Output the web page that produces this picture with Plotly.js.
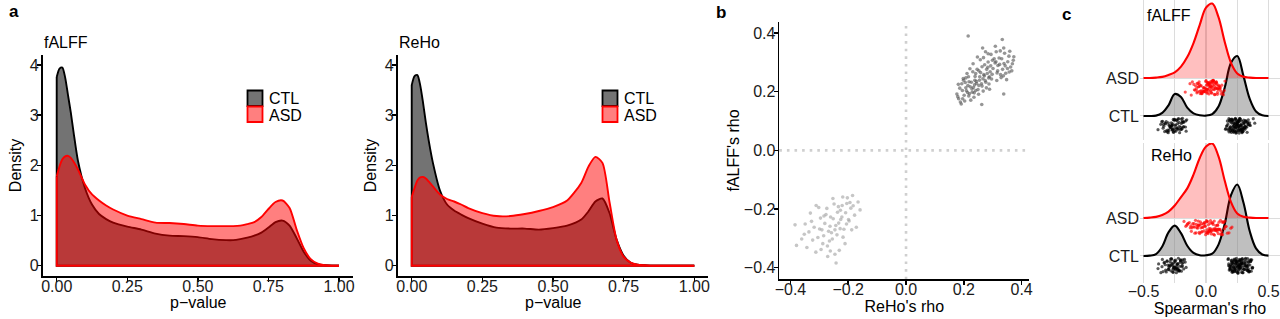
<!DOCTYPE html>
<html><head><meta charset="utf-8">
<script src="https://cdn.plot.ly/plotly-3.0.1.min.js"></script>
<style>html,body{margin:0;padding:0;background:#fff}#chart{width:1280px;height:319px}</style>
</head><body><div id="chart"></div>
<script>
// ---------- Panel a: density of p-values ----------
const pGrid = [0,0.01,0.02,0.03,0.04,0.05,0.06,0.075,0.1,0.125,0.15,0.175,0.2,0.25,0.3,0.35,0.4,0.45,0.5,0.55,0.6,0.625,0.65,0.675,0.7,0.725,0.75,0.775,0.8,0.825,0.85,0.875,0.9,0.925,0.95,0.975,1];
const falffCtlDensity = [3.76,3.93,3.95,3.75,3.4,3.05,2.65,2.1,1.55,1.22,1.03,0.93,0.86,0.78,0.72,0.64,0.6,0.59,0.57,0.53,0.51,0.51,0.53,0.56,0.6,0.66,0.76,0.87,0.9,0.8,0.55,0.28,0.1,0.03,0.01,0,0];
const falffAsdDensity = [1.78,1.98,2.12,2.18,2.19,2.15,2.07,1.92,1.62,1.42,1.3,1.2,1.12,1.0,0.93,0.86,0.85,0.83,0.8,0.79,0.79,0.79,0.8,0.83,0.87,0.97,1.13,1.27,1.3,1.15,0.72,0.35,0.13,0.04,0.01,0,0];
const rehoCtlDensity = [3.6,3.78,3.8,3.6,3.25,2.85,2.5,2.05,1.5,1.22,1.1,1.02,0.95,0.84,0.76,0.74,0.74,0.72,0.75,0.8,0.92,1.08,1.28,1.34,1.05,0.52,0.2,0.06,0.02,0.01,0,0,0,0,0,0,0];
const rehoAsdDensity = [1.37,1.55,1.7,1.76,1.77,1.74,1.68,1.58,1.42,1.33,1.28,1.22,1.15,1.05,0.99,0.99,1.03,1.09,1.17,1.3,1.65,1.97,2.17,2.05,1.27,0.52,0.18,0.06,0.02,0.01,0,0,0,0,0,0,0];
const pTicks = [0,0.25,0.5,0.75,1];
const densityTicks = [0,1,2,3,4];

// ---------- Panel b: ReHo's rho vs fALFF's rho ----------
const posReho = [0.182,0.195,0.201,0.214,0.188,0.226,0.233,0.207,0.219,0.241,
 0.252,0.263,0.238,0.271,0.284,0.229,0.246,0.291,0.305,0.276,
 0.318,0.327,0.296,0.341,0.334,0.352,0.309,0.362,0.287,0.257,
 0.176,0.191,0.205,0.217,0.198,0.224,0.211,0.236,0.243,0.231,
 0.249,0.266,0.258,0.278,0.272,0.289,0.301,0.314,0.322,0.345,
 0.356,0.371,0.338,0.366,0.348,0.312,0.294,0.283,0.268,0.221,
 0.186,0.179,0.193,0.203,0.209,0.216,0.222,0.228,0.235,0.239,
 0.244,0.251,0.255,0.261,0.267,0.274,0.281,0.286,0.293,0.298,
 0.338,0.311,0.317,0.324,0.331,0.337,0.343,0.351,0.359,0.368,
 0.215,0.213,0.199,0.247,0.262,0.275,0.289,0.232,0.265,0.252,
 0.181,0.196,0.207,0.218,0.237,0.254,0.241,0.263,0.279,0.308,
 0.326,0.339,0.357,0.373,0.333,0.329,0.315,0.299,0.284,0.269];
const posFalff = [0.176,0.204,0.188,0.221,0.165,0.232,0.214,0.247,0.193,0.262,
 0.221,0.285,0.239,0.254,0.301,0.198,0.276,0.268,0.312,0.232,
 0.289,0.258,0.243,0.331,0.276,0.302,0.355,0.284,0.226,0.309,
 0.192,0.158,0.231,0.185,0.245,0.171,0.262,0.196,0.235,0.268,
 0.207,0.244,0.265,0.213,0.292,0.251,0.279,0.238,0.315,0.263,
 0.321,0.307,0.349,0.271,0.241,0.336,0.327,0.283,0.316,0.278,
 0.212,0.183,0.227,0.168,0.203,0.251,0.217,0.209,0.181,0.252,
 0.228,0.191,0.251,0.227,0.202,0.238,0.262,0.247,0.288,0.259,
 0.192,0.302,0.271,0.293,0.312,0.254,0.288,0.279,0.338,0.295,
 0.39,0.197,0.239,0.318,0.156,0.336,0.208,0.295,0.349,0.271,
 0.225,0.176,0.213,0.234,0.223,0.239,0.204,0.219,0.276,0.298,
 0.339,0.296,0.267,0.319,0.378,0.248,0.264,0.307,0.329,0.258];
const negReho = [-0.384,-0.379,-0.242,-0.185,-0.352,-0.331,-0.318,-0.305,-0.296,-0.288,
 -0.281,-0.274,-0.268,-0.261,-0.255,-0.249,-0.243,-0.237,-0.231,-0.226,
 -0.221,-0.215,-0.209,-0.203,-0.197,-0.191,-0.178,-0.166,-0.159,-0.172,
 -0.343,-0.327,-0.312,-0.299,-0.285,-0.272,-0.263,-0.252,-0.239,-0.228,
 -0.218,-0.206,-0.194,-0.183,-0.302,-0.291,-0.277,-0.265,-0.253,-0.246,
 -0.234,-0.222,-0.211,-0.199,-0.188,-0.323,-0.336,-0.361,-0.311,-0.258,
 -0.271,-0.284,-0.246,-0.233,-0.219,-0.205,-0.262,-0.294,-0.349,-0.227];
const negFalff = [-0.254,-0.324,-0.384,-0.154,-0.286,-0.214,-0.262,-0.297,-0.231,-0.318,
 -0.249,-0.198,-0.276,-0.227,-0.302,-0.183,-0.256,-0.211,-0.341,-0.236,
 -0.188,-0.269,-0.213,-0.162,-0.241,-0.197,-0.221,-0.176,-0.203,-0.262,
 -0.331,-0.242,-0.347,-0.268,-0.291,-0.326,-0.259,-0.233,-0.288,-0.267,
 -0.296,-0.251,-0.178,-0.189,-0.195,-0.271,-0.219,-0.309,-0.164,-0.354,
 -0.192,-0.227,-0.318,-0.236,-0.271,-0.306,-0.278,-0.302,-0.188,-0.281,
 -0.362,-0.224,-0.271,-0.248,-0.159,-0.181,-0.343,-0.338,-0.251,-0.204];
const rhoTicksB = [-0.4,-0.2,0,0.2,0.4];

// ---------- Panel c: ridgelines of Spearman's rho ----------
const rhoGrid = [-0.5,-0.45,-0.4,-0.35,-0.3,-0.25,-0.2,-0.15,-0.1,-0.05,0,0.05,0.1,0.15,0.2,0.25,0.3,0.35,0.4,0.45,0.5];
const falffCtlRidge = [0,0,0.01,0.08,0.28,0.58,0.5,0.22,0.07,0.02,0.01,0.05,0.25,0.75,1.4,1.58,1.05,0.45,0.12,0.02,0];
const falffAsdRidge = [0,0,0.01,0.03,0.08,0.15,0.3,0.55,0.92,1.4,1.85,1.96,1.6,0.95,0.4,0.12,0.03,0.01,0,0,0];
const rehoCtlRidge = [0,0.01,0.05,0.25,0.62,0.8,0.6,0.27,0.08,0.02,0.02,0.06,0.3,0.85,1.6,1.88,1.4,0.65,0.2,0.04,0.01];
const rehoAsdRidge = [0,0.01,0.03,0.08,0.17,0.33,0.55,0.78,1.14,1.58,1.88,1.96,1.62,0.98,0.42,0.12,0.03,0.01,0,0,0];
const falffAsdRho = [-0.082,0.034,0.011,-0.047,0.096,0.058,-0.021,0.127,0.003,-0.064,
 0.071,0.042,-0.109,0.018,0.087,-0.035,0.114,0.052,-0.008,0.026,
 -0.071,0.063,0.139,-0.052,0.009,0.081,-0.016,0.047,0.105,-0.093,
 0.038,-0.027,0.068,0.121,-0.058,0.015,0.092,-0.004,0.056,-0.041,
 0.029,0.078,-0.118,0.044,0.006,0.101,-0.067,0.061,-0.013,0.133,
 0.022,-0.086,0.049,0.083,-0.031,0.012,0.109,-0.049,0.074,0.037,
 -0.166,0.001,0.066,-0.022,0.091,0.027,-0.076,0.054,0.118,-0.039,
 0.008,0.086,-0.061,0.041,-0.002,0.097,0.031,-0.097,0.069,0.019,
 0.146,-0.044,0.059,-0.011,0.077,-0.128,0.024,0.112,-0.055,0.046,
 0.004,-0.073,0.089,0.032,-0.018,0.065,0.152,-0.036,0.051,0.014];
const rehoAsdRho = [-0.121,0.045,-0.013,0.098,-0.068,0.152,0.021,-0.154,0.076,-0.034,
 0.119,-0.091,0.007,0.063,-0.047,0.184,-0.112,0.036,0.089,-0.006,
 -0.143,0.057,0.132,-0.077,0.015,0.104,-0.029,0.171,-0.058,0.041,
 -0.176,0.083,-0.019,0.126,-0.101,0.052,0.001,0.147,-0.084,0.029,
 0.094,-0.041,0.068,-0.133,0.113,-0.009,0.038,-0.062,0.198,0.011,
 -0.096,0.072,-0.024,0.137,-0.051,0.019,0.086,-0.117,0.049,0.161,
 -0.037,0.003,0.108,-0.072,0.061,-0.148,0.024,0.129,-0.016,0.079,
 -0.089,0.033,0.154,-0.054,0.012,0.097,-0.126,0.058,-0.003,0.141,
 0.027,-0.066,0.116,-0.031,0.071,-0.106,0.043,0.208,-0.045,0.008,
 0.091,-0.079,0.035,-0.011,0.124,-0.162,0.066,0.017,-0.058,0.102];
const jitterDown = [0.21,0.34,0.12,0.41,0.27,0.08,0.36,0.19,0.30,0.15,
 0.43,0.24,0.10,0.32,0.18,0.39,0.26,0.07,0.35,0.22,
 0.14,0.29,0.44,0.17,0.37,0.11,0.25,0.40,0.20,0.31,
 0.09,0.33,0.16,0.42,0.23,0.13,0.38,0.28,0.06,0.34,
 0.19,0.26,0.45,0.12,0.30,0.21,0.36,0.08,0.27,0.39,
 0.15,0.32,0.24,0.10,0.41,0.18,0.29,0.35,0.13,0.22,
 0.37,0.07,0.31,0.25,0.43,0.16,0.28,0.11,0.34,0.20,
 0.40,0.14,0.23,0.38,0.09,0.30,0.26,0.17,0.44,0.12,
 0.33,0.21,0.06,0.36,0.27,0.15,0.42,0.24,0.10,0.31,
 0.19,0.39,0.28,0.13,0.35,0.22,0.08,0.41,0.18,0.29,
 0.25,0.37,0.11,0.32,0.20,0.45,0.16,0.27,0.09,0.34,
 0.23,0.40,0.14,0.30,0.07,0.38,0.26,0.19,0.43,0.12,
 0.33,0.21,0.36,0.10,0.28,0.17,0.42,0.24,0.31,0.15,
 0.39,0.08,0.25,0.35,0.18,0.29,0.11,0.44,0.22,0.32,
 0.06,0.37,0.27,0.13,0.40,0.20,0.34,0.16,0.30,0.09,
 0.41,0.23,0.14,0.36,0.26,0.19,0.43,0.12,0.31,0.21,
 0.38,0.10,0.28,0.17,0.35,0.24,0.07,0.42,0.29,0.15,
 0.33,0.20,0.39,0.11,0.26,0.37,0.18,0.44,0.13,0.30,
 0.22,0.08,0.34,0.25,0.40,0.16,0.32,0.27,0.09,0.36];
const groupLevels = [1, 2];
const groupLabels = ['CTL', 'ASD'];
const rhoTicksC = [-0.5,-0.25,0,0.25,0.5];
const rhoTickTextC = ['\u22120.5','','0.0','','0.5'];

// ---------- helpers ----------
const W = 1280, H = 319;
const px = v => v / W;
const py = v => 1 - v / H;
const FONT = 'Liberation Sans, Arial, Helvetica, sans-serif';
const CTL_FILL = 'rgba(0,0,0,0.55)', ASD_FILL = 'rgba(255,0,0,0.5)';

function ridgeTraces(xs, hs, level, xa, ya, lineColor, fillColor) {
  const base = { x: xs, y: xs.map(() => level), xaxis: xa, yaxis: ya, mode: 'lines',
    line: { width: 0, color: 'rgba(0,0,0,0)' }, hoverinfo: 'skip', showlegend: false };
  const top = { x: xs, y: hs.map(h => level + h), xaxis: xa, yaxis: ya, mode: 'lines',
    fill: 'tonexty', fillcolor: fillColor,
    line: { color: lineColor, width: 2.1, shape: 'spline', smoothing: 1 }, showlegend: false };
  return [base, top];
}
function jitterTrace(xs, level, xa, ya, color) {
  return { x: xs, y: xs.map((_, i) => level - jitterDown[i]), xaxis: xa, yaxis: ya,
    mode: 'markers', type: 'scatter', showlegend: false,
    marker: { size: 3.2, color: color, line: { width: 0 } } };
}

const traces = [];
// panel a: smoothed density curve filled to zero, plus the straight outline (left edge + baseline)
function densityTraces(xa, ya, vals, lineColor, fillColor, name) {
  const n = pGrid.length;
  return [
    { x: pGrid, y: vals, xaxis: xa, yaxis: ya, mode: 'lines', fill: 'tozeroy', fillcolor: fillColor,
      line: { color: lineColor, width: 1.9, shape: 'spline', smoothing: 0.7 }, name: name, showlegend: false },
    { x: [pGrid[0], pGrid[0], pGrid[n - 1]], y: [vals[0], 0, 0], xaxis: xa, yaxis: ya, mode: 'lines',
      line: { color: lineColor, width: 1.9 }, hoverinfo: 'skip', showlegend: false }
  ];
}
traces.push(...densityTraces('x', 'y', falffCtlDensity, '#000', CTL_FILL, 'CTL'));
traces.push(...densityTraces('x', 'y', falffAsdDensity, '#ff0000', ASD_FILL, 'ASD'));
traces.push(...densityTraces('x2', 'y2', rehoCtlDensity, '#000', CTL_FILL, 'CTL'));
traces.push(...densityTraces('x2', 'y2', rehoAsdDensity, '#ff0000', ASD_FILL, 'ASD'));
// panel b
traces.push({ x: negReho, y: negFalff, xaxis: 'x3', yaxis: 'y3', mode: 'markers', showlegend: false,
  marker: { size: 3.6, color: 'rgba(160,160,160,0.6)' } });
traces.push({ x: posReho, y: posFalff, xaxis: 'x3', yaxis: 'y3', mode: 'markers', showlegend: false,
  marker: { size: 3.6, color: 'rgba(80,80,80,0.6)' } });
// panel c - fALFF (top)
traces.push(...ridgeTraces(rhoGrid, falffCtlRidge, groupLevels[0], 'x4', 'y4', '#000', 'rgba(128,128,128,0.5)'));
traces.push(...ridgeTraces(rhoGrid, falffAsdRidge, groupLevels[1], 'x4', 'y4', '#ff0000', 'rgba(255,0,0,0.25)'));
traces.push(jitterTrace(posFalff.concat(negFalff), groupLevels[0], 'x4', 'y4', 'rgba(0,0,0,0.65)'));
traces.push(jitterTrace(falffAsdRho, groupLevels[1], 'x4', 'y4', 'rgba(255,0,0,0.65)'));
// panel c - ReHo (bottom)
traces.push(...ridgeTraces(rhoGrid, rehoCtlRidge, groupLevels[0], 'x5', 'y5', '#000', 'rgba(128,128,128,0.5)'));
traces.push(...ridgeTraces(rhoGrid, rehoAsdRidge, groupLevels[1], 'x5', 'y5', '#ff0000', 'rgba(255,0,0,0.25)'));
traces.push(jitterTrace(posReho.concat(negReho), groupLevels[0], 'x5', 'y5', 'rgba(0,0,0,0.65)'));
traces.push(jitterTrace(rehoAsdRho, groupLevels[1], 'x5', 'y5', 'rgba(255,0,0,0.65)'));

// ---------- layout ----------
const tickFont = { family: FONT, size: 16, color: '#1a1a1a' };
const titleFont = { family: FONT, size: 16, color: '#000' };
const classic = {
  showline: true, linecolor: '#000', linewidth: 1.7, ticks: 'outside', ticklen: 4, tickwidth: 1.5,
  tickcolor: '#000', showgrid: false, zeroline: false, tickfont: tickFont, fixedrange: true
};
const xStyle = Object.assign({}, classic, { ticklabelstandoff: -9 });
const yStyle = Object.assign({}, classic, { ticklabelstandoff: -5 });
const yA = [py(276), py(55)];
const annot = (text, x, y, anchor, font) => ({ text: text, x: px(x), y: py(y), xref: 'paper', yref: 'paper',
  xanchor: anchor, yanchor: 'middle', showarrow: false, font: font || titleFont });
const bold = { family: FONT, size: 17, color: '#000' };
const layout = {
  width: W, height: H, margin: { l: 0, r: 0, t: 0, b: 0 }, paper_bgcolor: '#fff', plot_bgcolor: 'rgba(0,0,0,0)',
  showlegend: false, font: { family: FONT, size: 16, color: '#000' },
  xaxis: Object.assign({}, xStyle, { domain: [px(42.6), px(353.1)], range: [-0.05, 1.05], anchor: 'y',
    tickvals: pTicks, tickformat: '.2f' }),
  yaxis: Object.assign({}, yStyle, { domain: yA, range: [-0.205, 4.2], anchor: 'x',
    tickvals: densityTicks, title: { text: 'Density', font: titleFont, standoff: 4 } }),
  xaxis2: Object.assign({}, xStyle, { domain: [px(397.6), px(708.4)], range: [-0.05, 1.05], anchor: 'y2',
    tickvals: pTicks, tickformat: '.2f' }),
  yaxis2: Object.assign({}, yStyle, { domain: yA, range: [-0.205, 4.2], anchor: 'x2',
    tickvals: densityTicks, title: { text: 'Density', font: titleFont, standoff: 4 } }),
  xaxis3: Object.assign({}, xStyle, { domain: [px(779.3), px(1029.3)], range: [-0.4385, 0.4265], anchor: 'y3',
    tickvals: rhoTicksB, tickformat: '.1f', title: { text: "ReHo's rho", font: titleFont, standoff: 3 } }),
  yaxis3: Object.assign({}, yStyle, { domain: [py(279.3), py(21.7)], range: [-0.4396, 0.4385], anchor: 'x3',
    tickvals: rhoTicksB, tickformat: '.1f', title: { text: "fALFF's rho", font: titleFont, standoff: 0 } }),
  xaxis4: { domain: [px(1140), 1], range: [-0.528, 0.592], anchor: 'y4', tickvals: rhoTicksC, showticklabels: false,
    showgrid: true, gridcolor: '#dcdcdc', gridwidth: 1.2, zeroline: false, showline: false, ticks: '', fixedrange: true },
  yaxis4: { domain: [py(140), 1], range: [0.368, 4.053], anchor: 'x4', tickvals: groupLevels, ticktext: groupLabels,
    showgrid: true, gridcolor: '#dcdcdc', gridwidth: 1, zeroline: false, showline: false, ticks: '', tickfont: tickFont, fixedrange: true },
  xaxis5: { domain: [px(1140), 1], range: [-0.528, 0.592], anchor: 'y5', tickvals: rhoTicksC, ticktext: rhoTickTextC,
    showgrid: true, gridcolor: '#dcdcdc', gridwidth: 1.2, zeroline: false, showline: false, ticks: '', tickfont: tickFont,
    ticklabelstandoff: -3, title: { text: "Spearman's rho", font: titleFont, standoff: 0 }, fixedrange: true },
  yaxis5: { domain: [py(283), py(143)], range: [0.289, 3.974], anchor: 'x5', tickvals: groupLevels, ticktext: groupLabels,
    showgrid: true, gridcolor: '#dcdcdc', gridwidth: 1, zeroline: false, showline: false, ticks: '', tickfont: tickFont, fixedrange: true },
  shapes: [
    { type: 'line', xref: 'x3', yref: 'y3 domain', x0: 0, x1: 0, y0: 0, y1: 1, layer: 'below',
      line: { color: '#cfcfcf', width: 2.6, dash: '2.6px,5px' } },
    { type: 'line', xref: 'x3 domain', yref: 'y3', x0: 0, x1: 1, y0: 0, y1: 0, layer: 'below',
      line: { color: '#cfcfcf', width: 2.6, dash: '2.6px,5px' } },
    // legend keys (panel a, left and right)
    { type: 'rect', xref: 'paper', yref: 'paper', x0: px(247.5), x1: px(262.5), y0: py(106), y1: py(90.5),
      fillcolor: CTL_FILL, line: { color: '#000', width: 1.8 } },
    { type: 'rect', xref: 'paper', yref: 'paper', x0: px(247.5), x1: px(262.5), y0: py(122), y1: py(106.5),
      fillcolor: ASD_FILL, line: { color: '#ff0000', width: 1.8 } },
    { type: 'rect', xref: 'paper', yref: 'paper', x0: px(602.5), x1: px(617.5), y0: py(106), y1: py(90.5),
      fillcolor: CTL_FILL, line: { color: '#000', width: 1.8 } },
    { type: 'rect', xref: 'paper', yref: 'paper', x0: px(602.5), x1: px(617.5), y0: py(122), y1: py(106.5),
      fillcolor: ASD_FILL, line: { color: '#ff0000', width: 1.8 } }
  ],
  annotations: [
    annot('<b>a</b>', 7, 12, 'left', bold),
    annot('<b>b</b>', 714, 13, 'left', bold),
    annot('<b>c</b>', 1060, 14, 'left', bold),
    annot('fALFF', 42, 42, 'left'),
    annot('ReHo', 397, 42, 'left'),
    annot('p\u2212value', 198, 302, 'center'),
    annot('p\u2212value', 553, 302, 'center'),
    annot('CTL', 267, 98, 'left'),
    annot('ASD', 267, 115, 'left'),
    annot('CTL', 622, 98, 'left'),
    annot('ASD', 622, 115, 'left'),
    annot('fALFF', 1145, 15, 'left'),
    annot('ReHo', 1149, 155, 'left')
  ]
};

Plotly.newPlot('chart', traces, layout, { staticPlot: true, displayModeBar: false });
</script>
</body></html>
